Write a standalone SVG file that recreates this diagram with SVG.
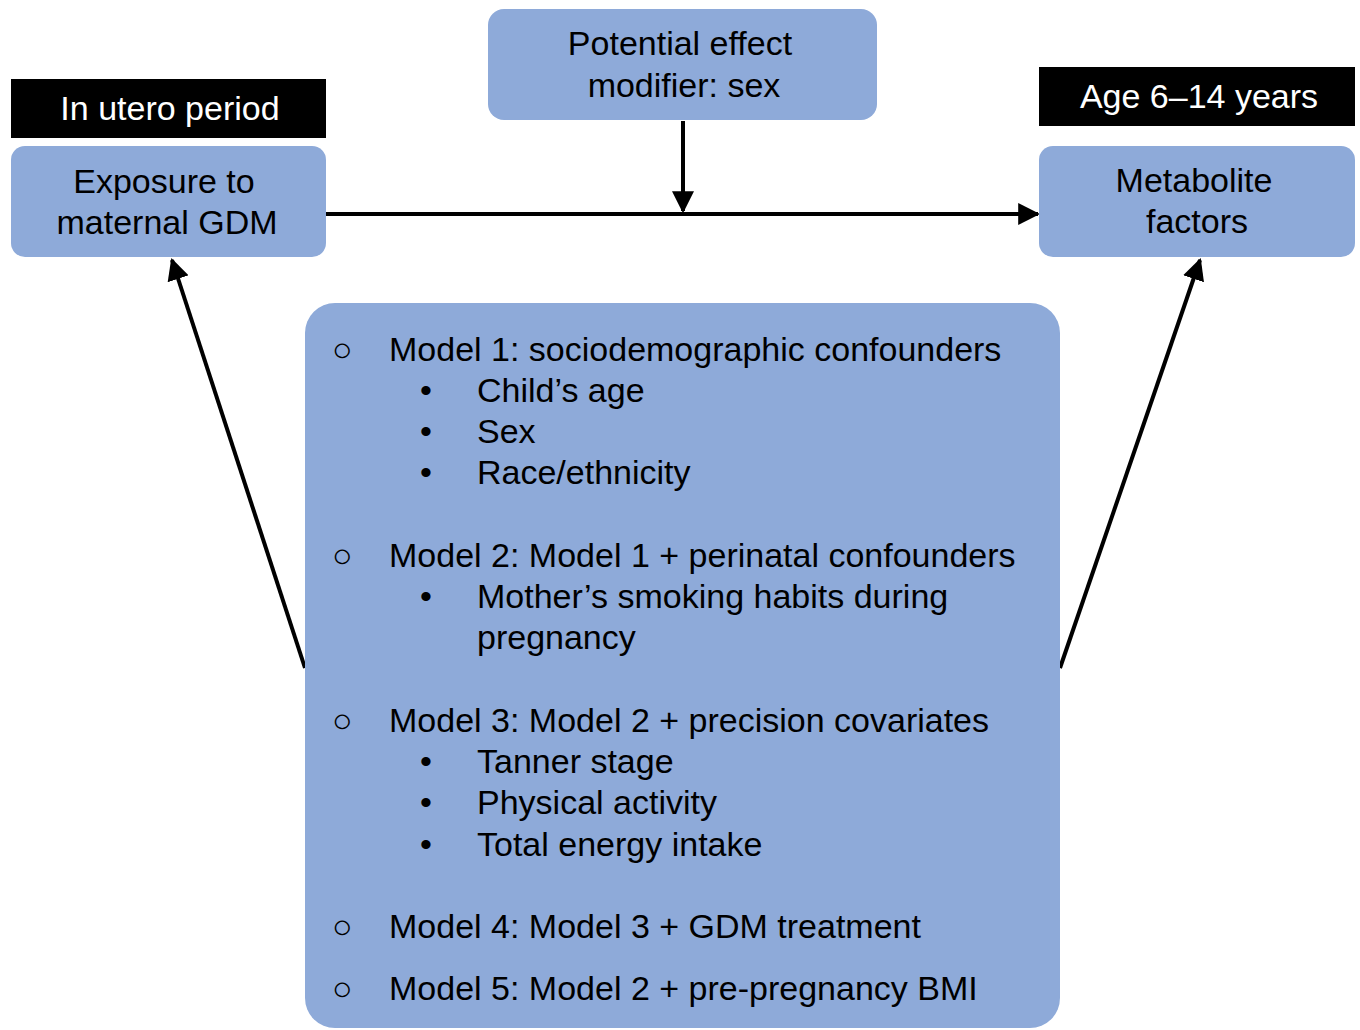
<svg xmlns="http://www.w3.org/2000/svg" width="1360" height="1030" viewBox="0 0 1360 1030">
<defs>
<style>
.box{fill:#8eaad9;}
.lbl{fill:#000;}
text{font-family:"Liberation Sans",Arial,sans-serif;font-size:34px;fill:#000;}
.c{text-anchor:middle;}
.w{fill:#fff;}
.ln{stroke:#000;stroke-width:4;fill:none;}
</style>
<marker id="ah" viewBox="0 0 10 10" refX="9" refY="5" markerWidth="5.5" markerHeight="5.5" markerUnits="strokeWidth" orient="auto">
<path d="M0,0 L10,5 L0,10 z" fill="#000"/>
</marker>
</defs>
<rect width="1360" height="1030" fill="#fff"/>
<g id="connectors">
<line class="ln" x1="326" y1="214" x2="1038" y2="214" marker-end="url(#ah)"/>
<line class="ln" x1="683" y1="121" x2="683" y2="211" marker-end="url(#ah)"/>
<line class="ln" x1="305" y1="668" x2="172" y2="260" marker-end="url(#ah)"/>
<line class="ln" x1="1060" y1="668" x2="1200" y2="260" marker-end="url(#ah)"/>
</g>
<g id="label-utero">
<rect x="11" y="79" width="315" height="59" class="lbl"/>
<text x="170" y="120" class="c w">In utero period</text>
</g>
<g id="node-exposure">
<rect x="11" y="146" width="315" height="111" rx="14" class="box"/>
<text x="164" y="193" class="c">Exposure to</text>
<text x="167" y="234" class="c">maternal GDM</text>
</g>
<g id="node-modifier">
<rect x="488" y="9" width="389" height="111" rx="16" class="box"/>
<text x="680" y="55" class="c">Potential effect</text>
<text x="684" y="97" class="c">modifier: sex</text>
</g>
<g id="label-age">
<rect x="1039" y="67" width="316" height="59" class="lbl"/>
<text x="1199" y="108" class="c w">Age 6–14 years</text>
</g>
<g id="node-metabolite">
<rect x="1039" y="146" width="316" height="111" rx="14" class="box"/>
<text x="1194" y="192" class="c">Metabolite</text>
<text x="1197" y="233" class="c">factors</text>
</g>
<g id="node-models">
<rect x="305" y="303" width="755" height="725" rx="30" class="box"/>
<text x="332" y="361">○</text><text x="389" y="361">Model 1: sociodemographic confounders</text>
<text x="420" y="402">•</text><text x="477" y="402">Child’s age</text>
<text x="420" y="443">•</text><text x="477" y="443">Sex</text>
<text x="420" y="484">•</text><text x="477" y="484">Race/ethnicity</text>
<text x="332" y="567">○</text><text x="389" y="567">Model 2: Model 1 + perinatal confounders</text>
<text x="420" y="608">•</text><text x="477" y="608">Mother’s smoking habits during</text>
<text x="477" y="649">pregnancy</text>
<text x="332" y="732">○</text><text x="389" y="732">Model 3: Model 2 + precision covariates</text>
<text x="420" y="773">•</text><text x="477" y="773">Tanner stage</text>
<text x="420" y="814">•</text><text x="477" y="814">Physical activity</text>
<text x="420" y="856">•</text><text x="477" y="856">Total energy intake</text>
<text x="332" y="938">○</text><text x="389" y="938">Model 4: Model 3 + GDM treatment</text>
<text x="332" y="1000">○</text><text x="389" y="1000">Model 5: Model 2 + pre-pregnancy BMI</text>
</g>
</svg>
